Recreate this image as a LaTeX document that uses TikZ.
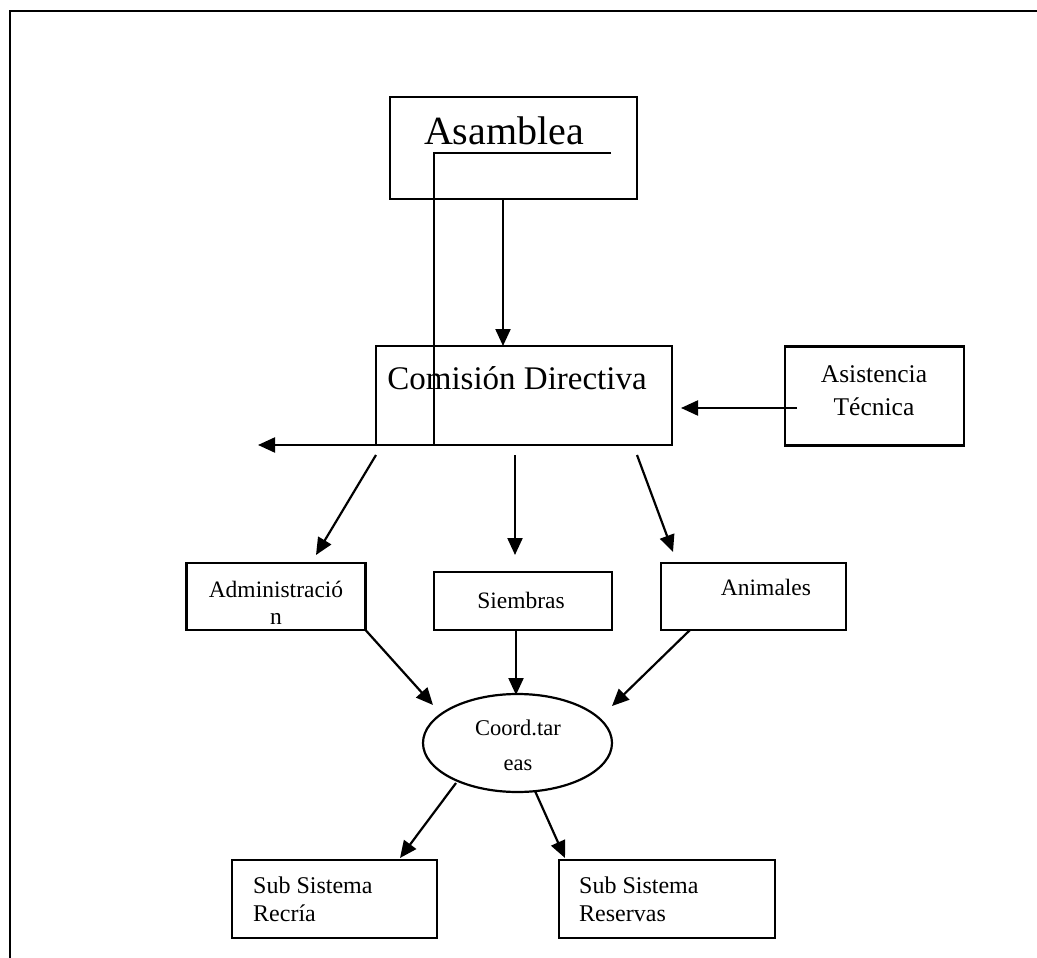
\documentclass[tikz,border=0pt]{standalone}
\usepackage{fontspec}
\setmainfont{Liberation Serif}
\usetikzlibrary{arrows.meta,shapes.geometric,calc}
\begin{document}
\begin{tikzpicture}[x=1pt,y=-1pt,
  box/.style={draw,line width=2.2pt,inner sep=0pt,outer sep=0pt},
  ell/.style={draw,ellipse,line width=2.2pt,inner sep=0pt,outer sep=0pt},
  txt/.style={inner sep=0pt,align=center},
  ltxt/.style={inner sep=0pt,align=left,anchor=west},
  arr/.style={line width=2.2pt,-{Triangle[length=17pt,width=15pt]}},
  ln/.style={line width=2.4pt}]
\useasboundingbox (0,0) rectangle (1037,958);
% outer frame
\coordinate (frTR) at (1037,11);
\coordinate (frTL) at (10,11);
\coordinate (frBL) at (10,958);
\draw[ln] (frTR) -- (frTL) -- (frBL);
% boxes
\node[box,minimum width=247,minimum height=102] (asam) at (513.5,148) {};
\node[box,minimum width=296,minimum height=99] (com) at (524,395.5) {};
\node[box,minimum width=179,minimum height=99] (asis) at (874.5,396) {};
\node[box,minimum width=179,minimum height=67] (admin) at (276,596.5) {};
\node[box,minimum width=178,minimum height=58] (siem) at (523,601) {};
\node[box,minimum width=185,minimum height=67] (anim) at (753.5,596.5) {};
\node[ell,minimum width=189,minimum height=98] (el) at (517.5,743) {};
\node[box,minimum width=205,minimum height=78] (rec) at (334.5,899) {};
\node[box,minimum width=216,minimum height=78] (res) at (667,899) {};
% texts
\node[txt,font=\fontsize{40}{44}\selectfont] (asamT) at (504,131) {Asamblea};
\node[txt,font=\fontsize{33}{38}\selectfont] (comT) at (517,378) {Comisión Directiva};
\node[txt,font=\fontsize{25.5}{33}\selectfont] (asisT) at (874,391) {Asistencia\\Técnica};
\node[txt,font=\fontsize{23.5}{27}\selectfont] (adminT) at (276,603) {Administració\\n};
\node[txt,font=\fontsize{23.5}{27}\selectfont] (siemT) at (521,600) {Siembras};
\node[txt,font=\fontsize{23.5}{27}\selectfont] (animT) at (766,587) {Animales};
\node[txt,font=\fontsize{22.5}{35}\selectfont] (elT) at (518,745) {Coord.tar\\eas};
\node[ltxt,font=\fontsize{24}{28}\selectfont] (recT) at (253,899) {Sub Sistema\\Recría};
\node[ltxt,font=\fontsize{24}{28}\selectfont] (resT) at (579,899) {Sub Sistema\\Reservas};
% connectors
\draw[arr] ($(asam.south)+(-10.5,0)$) -- ($(com.north)+(-21,0)$);
\coordinate (inA) at (611,153);
\coordinate (inB) at (434,153);
\coordinate (inC) at (434,445);
\coordinate (leftEnd) at (258,445);
\draw[arr] (inA) -- (inB) -- (inC) -- (leftEnd);
\draw[arr] ($(asis.west)+(12,12)$) -- ($(com.east)+(9,12.5)$);
\draw[arr] ($(com.south west)+(0,10)$) -- ($(admin.north)+(40,-8)$);
\draw[arr] ($(com.south)+(-9,10)$) -- ($(siem.north)+(-8,-17)$);
\draw[arr] ($(com.south east)+(-35,10)$) -- ($(anim.north)+(-80.5,-11)$);
\draw[arr] (admin.south east) -- ($(el.center)+(-84.5,-38)$);
\draw[arr] ($(siem.south)+(-7,0)$) -- ($(el.north)+(-1.5,1)$);
\draw[arr] ($(anim.south)+(-63.5,0)$) -- ($(el.center)+(94.5,-37)$);
\draw[arr] ($(el.center)+(-61.5,40)$) -- ($(rec.north)+(65.5,-2)$);
\draw[arr] ($(el.center)+(17.5,48)$) -- ($(res.north)+(-102,-2)$);
\end{tikzpicture}
\end{document}
